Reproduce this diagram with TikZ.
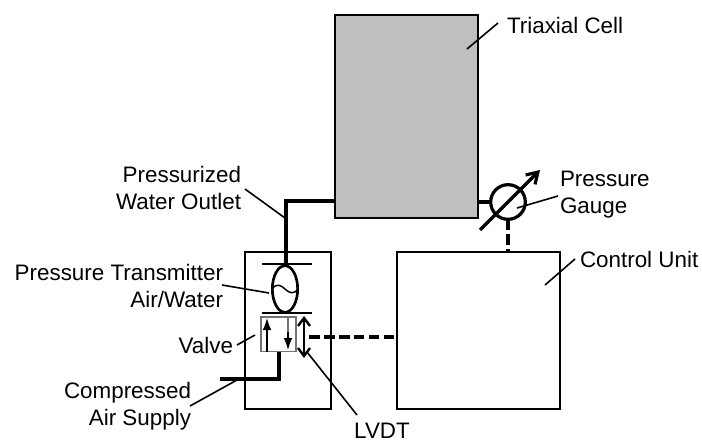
\documentclass[tikz,border=0pt]{standalone}
\usepackage{fontspec}
\setmainfont{Liberation Sans}
\usetikzlibrary{arrows.meta,shapes.geometric}
\begin{document}
\begin{tikzpicture}[x=0.75pt,y=-0.75pt,
  pipe/.style={line width=2.4pt},
  box/.style={draw,line width=1.9pt,outer sep=0pt,inner sep=0pt,anchor=north west},
  leader/.style={line width=1.2pt},
  ctrl/.style={line width=2.4pt,dash pattern=on 8pt off 3.2pt},
  lab/.style={font=\fontsize{16.8}{20.25}\selectfont,align=center,inner sep=0pt,outer sep=0pt},
  labr/.style={lab,align=right,anchor=east},
  labl/.style={lab,align=left,anchor=west}]
\useasboundingbox (0,0) rectangle (702,442);
% Bodies
\node[box,fill=black!25,minimum width=107.25pt,minimum height=152.25pt] (cell) at (335,15) {};
\node[box,minimum width=64.5pt,minimum height=117.75pt] (hous) at (245,252) {};
\node[box,minimum width=122.25pt,minimum height=117.75pt] (unit) at (397,252) {};
% Gauge
\node[draw,circle,line width=2.4pt,minimum size=26pt,inner sep=0pt,outer sep=0pt] (gauge) at (508,202) {};
\coordinate (gaugeA) at (480,230);
\coordinate (gaugeB) at (540,170);
\draw[line width=2.4pt,-{Straight Barb[length=8pt,width=10pt]}] (gaugeA) -- (gaugeB);
\draw[pipe] (gauge.west) -- (gauge.west -| cell.east);
\draw[ctrl] (gauge.south) -- (gauge.south |- unit.north);
% Transmitter
\coordinate (barT1) at (262,264); \coordinate (barT2) at (312,264);
\coordinate (barB1) at (262,313); \coordinate (barB2) at (312,313);
\draw[line width=1.8pt] (barT1) -- (barT2);
\draw[line width=1.8pt] (barB1) -- (barB2);
\node[draw,ellipse,line width=2pt,minimum width=19pt,minimum height=35pt,inner sep=0pt,outer sep=0pt] (trans) at (285,289) {};
\draw[line width=1.1pt] (trans.west) .. controls (276,283) and (281,285) .. (285,289) .. controls (289,293) and (294,295) .. (trans.east);
% Water pipe
\coordinate (pipeA) at (286,201);
\coordinate (pipeB) at (286,264);
\draw[pipe,line join=miter] (cell.west |- pipeA) -- (pipeA) -- (pipeB);
% Valve
\node[draw=black!55,line width=1pt,fill=white,minimum width=26.25pt,minimum height=26pt,inner sep=0pt,outer sep=0pt,anchor=north west] (valve) at (261,317) {};
\coordinate (v1a) at (267,352); \coordinate (v1b) at (267,318);
\coordinate (v2a) at (288,317); \coordinate (v2b) at (288,350);
\draw[line width=0.9pt,-{Latex[length=9pt,width=6.5pt]}] (v1a) -- (v1b);
\draw[line width=0.9pt,black!55] (v2a) -- (288,340);
\draw[line width=0.9pt,-{Latex[length=9pt,width=6.5pt]}] (288,332) -- (v2b);
% Air supply
\coordinate (airA) at (220,379); \coordinate (airB) at (279,379);
\coordinate (airC) at (279,352);
\draw[pipe,line join=miter] (airA) -- (airB) -- (airC);
% LVDT
\coordinate (lv1) at (304,316); \coordinate (lv2) at (304,358);
\draw[line width=1.8pt,{Straight Barb[length=6pt,width=9pt]}-{Straight Barb[length=6pt,width=9pt]}] (lv1) -- (lv2);
\coordinate (ctrlL) at (309,337);
\draw[ctrl] (ctrlL) -- (ctrlL -| unit.west);
% Labels
\node[labl] (tTri) at (507,25) {Triaxial Cell};
\node[labr] (tOut) at (241,188) {Pressurized\\Water Outlet};
\node[labl] (tPG) at (560,195) {Pressure\\Gauge};
\node[labl] (tCU) at (580,259) {Control Unit};
\node[labr] (tPT) at (223,286) {Pressure Transmitter\\Air/Water};
\node[labr] (tVal) at (233,345) {Valve};
\node[labr] (tAir) at (191,406) {Compressed\\Air Supply};
\node[lab] (tLV) at (382,431) {LVDT};
% Leaders
\coordinate (l1a) at (467,49); \coordinate (l1b) at (498,23);
\coordinate (l2a) at (245,189); \coordinate (l2b) at (285,218);
\coordinate (l3a) at (222,285); \coordinate (l3b) at (269,293);
\coordinate (l4a) at (237,345); \coordinate (l4b) at (255,335);
\coordinate (l5a) at (190,406); \coordinate (l5b) at (237,380);
\coordinate (l6a) at (517,208); \coordinate (l6b) at (558,196);
\coordinate (l7a) at (545,285); \coordinate (l7b) at (575,259);
\coordinate (l8a) at (307,352); \coordinate (l8b) at (357,415);
\foreach \n in {1,...,8} \draw[leader] (l\n a) -- (l\n b);
\end{tikzpicture}
\end{document}
